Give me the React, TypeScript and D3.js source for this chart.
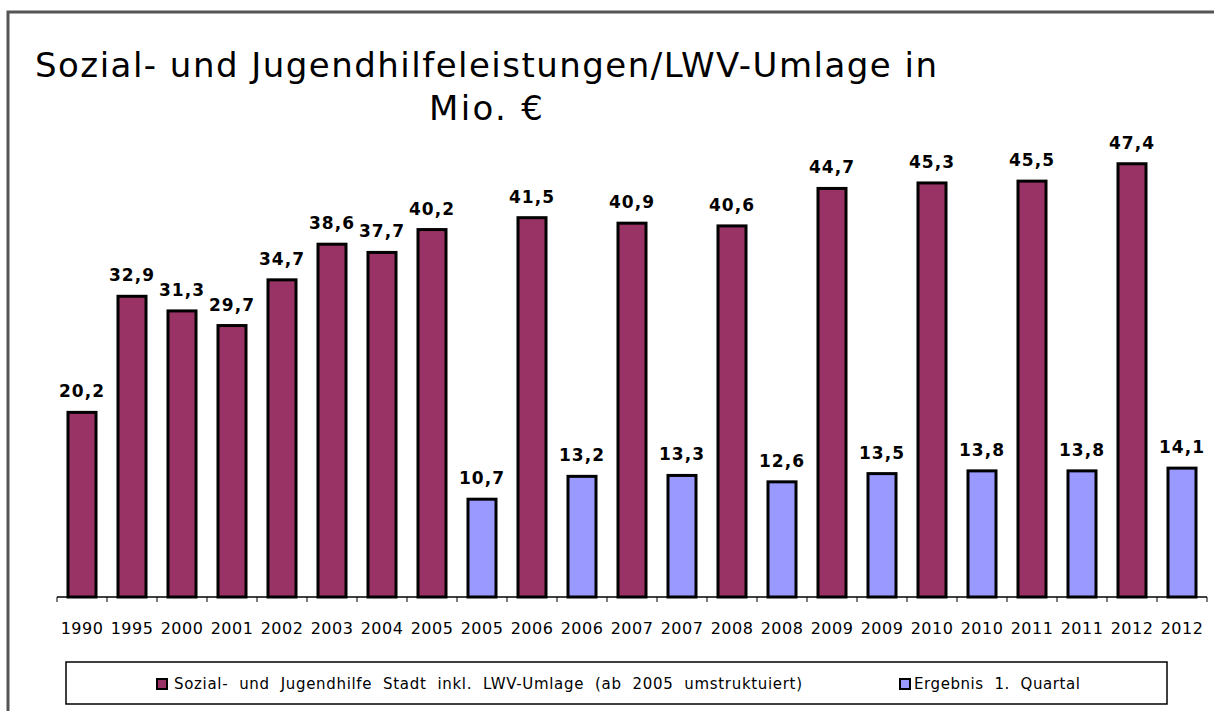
import React, { useEffect, useRef } from "react";
import * as d3 from "d3";

const years = [
  "1990", "1995", "2000", "2001", "2002", "2003", "2004", "2005", "2005",
  "2006", "2006", "2007", "2007", "2008", "2008", "2009", "2009", "2010",
  "2010", "2011", "2011", "2012", "2012",
];
const values = [
  20.2, 32.9, 31.3, 29.7, 34.7, 38.6, 37.7, 40.2, 10.7, 41.5, 13.2, 40.9,
  13.3, 40.6, 12.6, 44.7, 13.5, 45.3, 13.8, 45.5, 13.8, 47.4, 14.1,
];
// 0 = Jahreswert, 1 = Ergebnis 1. Quartal
const seriesIdx = [
  0, 0, 0, 0, 0, 0, 0, 0, 1, 0, 1, 0, 1, 0, 1, 0, 1, 0, 1, 0, 1, 0, 1,
];
const seriesNames = [
  "Sozial-  und  Jugendhilfe  Stadt  inkl.  LWV-Umlage  (ab  2005  umstruktuiert)",
  "Ergebnis  1.  Quartal",
];
const colors = ["#993366", "#9999FF"];

export default function App() {
  const svgRef = useRef<SVGSVGElement>(null);

  useEffect(() => {
    if (!svgRef.current) return;
    const svg = d3.select(svgRef.current);
    svg.selectAll("*").remove();

    const W = 1214;
    const H = 711;
    const base = 597;

    // frame
    svg.append("rect")
      .attr("x", 8).attr("y", 12)
      .attr("width", W + 20).attr("height", H + 20)
      .attr("fill", "white")
      .attr("stroke", "#555").attr("stroke-width", 3);

    // title
    const title = svg.append("g")
      .attr("font-family", "'DejaVu Sans', sans-serif")
      .attr("font-size", 34)
      .attr("fill", "#000");
    title.append("text").attr("x", 35).attr("y", 77)
      .attr("textLength", 902).attr("lengthAdjust", "spacing")
      .text("Sozial- und Jugendhilfeleistungen/LWV-Umlage in");
    title.append("text").attr("x", 429).attr("y", 120)
      .attr("textLength", 114).attr("lengthAdjust", "spacing")
      .text("Mio. €");

    const x = d3.scaleBand<number>()
      .domain(d3.range(years.length))
      .range([57, 1207])
      .paddingInner(0.4)
      .paddingOuter(0.2);

    const y = d3.scaleLinear().domain([0, 50]).range([base, 140]);

    const fmt = (v: number) => d3.format(".1f")(v).replace(".", ",");

    const g = svg.append("g");
    g.selectAll("rect.bar")
      .data(values)
      .join("rect")
      .attr("class", "bar")
      .attr("x", (_, i) => x(i)! + 1)
      .attr("width", x.bandwidth() - 2)
      .attr("y", (d) => y(d))
      .attr("height", (d) => base - y(d))
      .attr("fill", (_, i) => colors[seriesIdx[i]])
      .attr("stroke", "#000")
      .attr("stroke-width", 3);

    g.selectAll("text.val")
      .data(values)
      .join("text")
      .attr("class", "val")
      .attr("x", (_, i) => x(i)! + x.bandwidth() / 2)
      .attr("y", (d) => y(d) - 15)
      .attr("text-anchor", "middle")
      .attr("font-family", "'DejaVu Sans', sans-serif")
      .attr("font-weight", "bold")
      .attr("font-size", 17)
      .attr("letter-spacing", 1)
      .text((d) => fmt(d));

    // x axis
    const step = x.step();
    const ax = svg.append("g");
    ax.append("line")
      .attr("x1", 57).attr("x2", 1207)
      .attr("y1", base).attr("y2", base)
      .attr("stroke", "#000").attr("stroke-width", 1.5);
    ax.selectAll("line.tick")
      .data(d3.range(years.length + 1))
      .join("line")
      .attr("class", "tick")
      .attr("x1", (i) => 57 + i * step)
      .attr("x2", (i) => 57 + i * step)
      .attr("y1", base).attr("y2", base + 5)
      .attr("stroke", "#000");
    ax.selectAll("text")
      .data(years)
      .join("text")
      .attr("x", (_, i) => x(i)! + x.bandwidth() / 2)
      .attr("y", 634)
      .attr("text-anchor", "middle")
      .attr("font-family", "'DejaVu Sans', sans-serif")
      .attr("font-size", 16)
      .attr("letter-spacing", 0.5)
      .text((d) => d);

    // legend
    const lg = svg.append("g");
    lg.append("rect")
      .attr("x", 66).attr("y", 662)
      .attr("width", 1101).attr("height", 42)
      .attr("fill", "white")
      .attr("stroke", "#000").attr("stroke-width", 1.5);
    const items = [
      { x: 157, tx: 174, len: 628 },
      { x: 900, tx: 914, len: 166 },
    ];
    items.forEach((it, i) => {
      lg.append("rect")
        .attr("x", it.x).attr("y", 679)
        .attr("width", 10).attr("height", 10)
        .attr("fill", colors[i])
        .attr("stroke", "#000").attr("stroke-width", 2);
      lg.append("text")
        .attr("x", it.tx).attr("y", 689)
        .attr("font-family", "'DejaVu Sans', sans-serif")
        .attr("font-size", 15)
        .attr("textLength", it.len)
        .attr("lengthAdjust", "spacing")
        .style("white-space", "pre")
        .text(seriesNames[i]);
    });
  }, []);

  return (
    <svg
      ref={svgRef}
      width={1214}
      height={711}
      style={{ position: "absolute", left: 0, top: 0, background: "white" }}
    />
  );
}
